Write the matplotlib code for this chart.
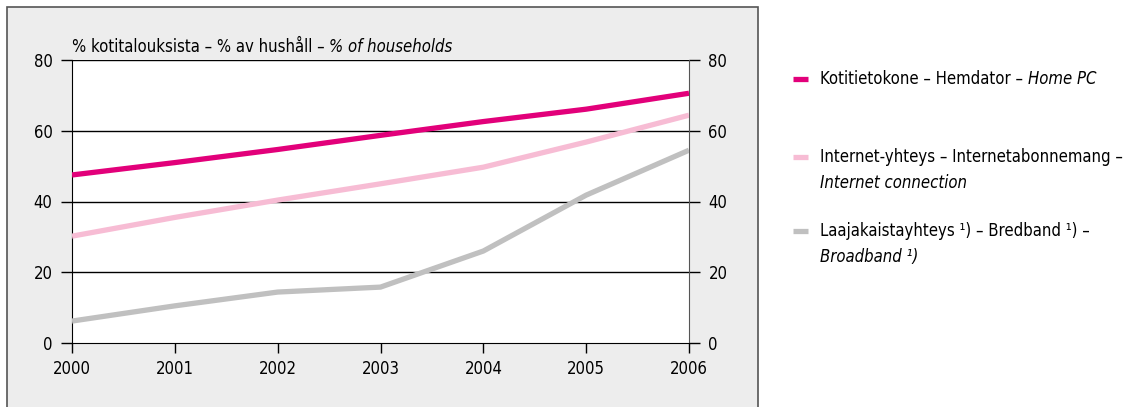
import matplotlib.pyplot as plt
from matplotlib.patches import Rectangle
from matplotlib.lines import Line2D
from matplotlib import font_manager

plt.rcParams['font.family'] = ['DejaVu Sans']
plt.rcParams['font.stretch'] = 'condensed'

years = [2000, 2001, 2002, 2003, 2004, 2005, 2006]
home_pc = [47.5, 51.0, 54.7, 58.7, 62.6, 66.1, 70.6]
internet = [30.2, 35.5, 40.4, 45.0, 49.7, 56.8, 64.4]
broadband = [6.2, 10.5, 14.4, 15.8, 26.0, 41.8, 54.5]

c_pc = '#e2007a'
c_net = '#f7bcd4'
c_bb = '#c0c0c0'

fs = 12

fig = plt.figure(figsize=(11.38, 4.07), dpi=100)
fig.add_artist(Rectangle((7 / 1138, -0.01), 751 / 1138, 400 / 407 + 0.01,
                         transform=fig.transFigure, facecolor='#ededed',
                         edgecolor='#555555', linewidth=1.2, zorder=0))

ax = fig.add_axes([72 / 1138, 64 / 407, 617 / 1138, 283 / 407])
ax.set_facecolor('white')
ax.set_zorder(1)

ax.plot(years, broadband, color=c_bb, linewidth=3.8, solid_capstyle='butt', zorder=3)
ax.plot(years, internet, color=c_net, linewidth=3.8, solid_capstyle='butt', zorder=3)
ax.plot(years, home_pc, color=c_pc, linewidth=3.8, solid_capstyle='butt', zorder=3)

ax.set_xlim(2000, 2006)
ax.set_ylim(0, 80)
ax.set_xticks(years)
ax.set_yticks([0, 20, 40, 60, 80])
for v in [20, 40, 60, 80]:
    ax.axhline(v, color='black', linewidth=1.0, zorder=2)

ax.spines['top'].set_visible(False)
ax.spines['left'].set_color('black')
ax.spines['bottom'].set_color('black')
ax.spines['right'].set_color('#555555')

ax.tick_params(axis='y', which='both', left=True, right=True, labelleft=True,
               labelright=True, direction='out', length=8, width=1,
               labelsize=fs, pad=6)
ax.tick_params(axis='x', direction='out', length=7, width=1, labelsize=fs, pad=5)

t0 = fig.text(72 / 1138, 1 - 52 / 407, '% kotitalouksista – % av hushåll – ', fontsize=fs,
              va='baseline', ha='left')
ax.annotate('% of households', xy=(1, 0), xycoords=t0, va='bottom', ha='left',
            fontsize=fs, style='italic', annotation_clip=False)

# legend drawn by hand
lx0, lx1, tx = 793 / 1138, 808 / 1138, 820 / 1138
rows = [
    (c_pc, 79, 'Kotitietokone – Hemdator – ', 'Home PC', None),
    (c_net, 157, 'Internet-yhteys – Internetabonnemang –', None, 'Internet connection'),
    (c_bb, 231, 'Laajakaistayhteys ¹) – Bredband ¹) –', None, 'Broadband ¹)'),
]
for col, py, txt, tail, line2 in rows:
    y = 1 - py / 407
    fig.add_artist(Line2D([lx0, lx1], [y, y], transform=fig.transFigure,
                          color=col, linewidth=3.8, solid_capstyle='butt'))
    t = fig.text(tx, y, txt, fontsize=fs, va='center', ha='left')
    if tail:
        ax.annotate(tail, xy=(1, 0), xycoords=t, va='bottom', ha='left',
                    fontsize=fs, style='italic', annotation_clip=False)
    if line2:
        fig.text(tx, y - 26 / 407, line2, fontsize=fs, va='center',
                 ha='left', style='italic')

print(font_manager.findfont(font_manager.FontProperties(family='DejaVu Sans', stretch='condensed')))
plt.savefig('out.png', dpi=100)
